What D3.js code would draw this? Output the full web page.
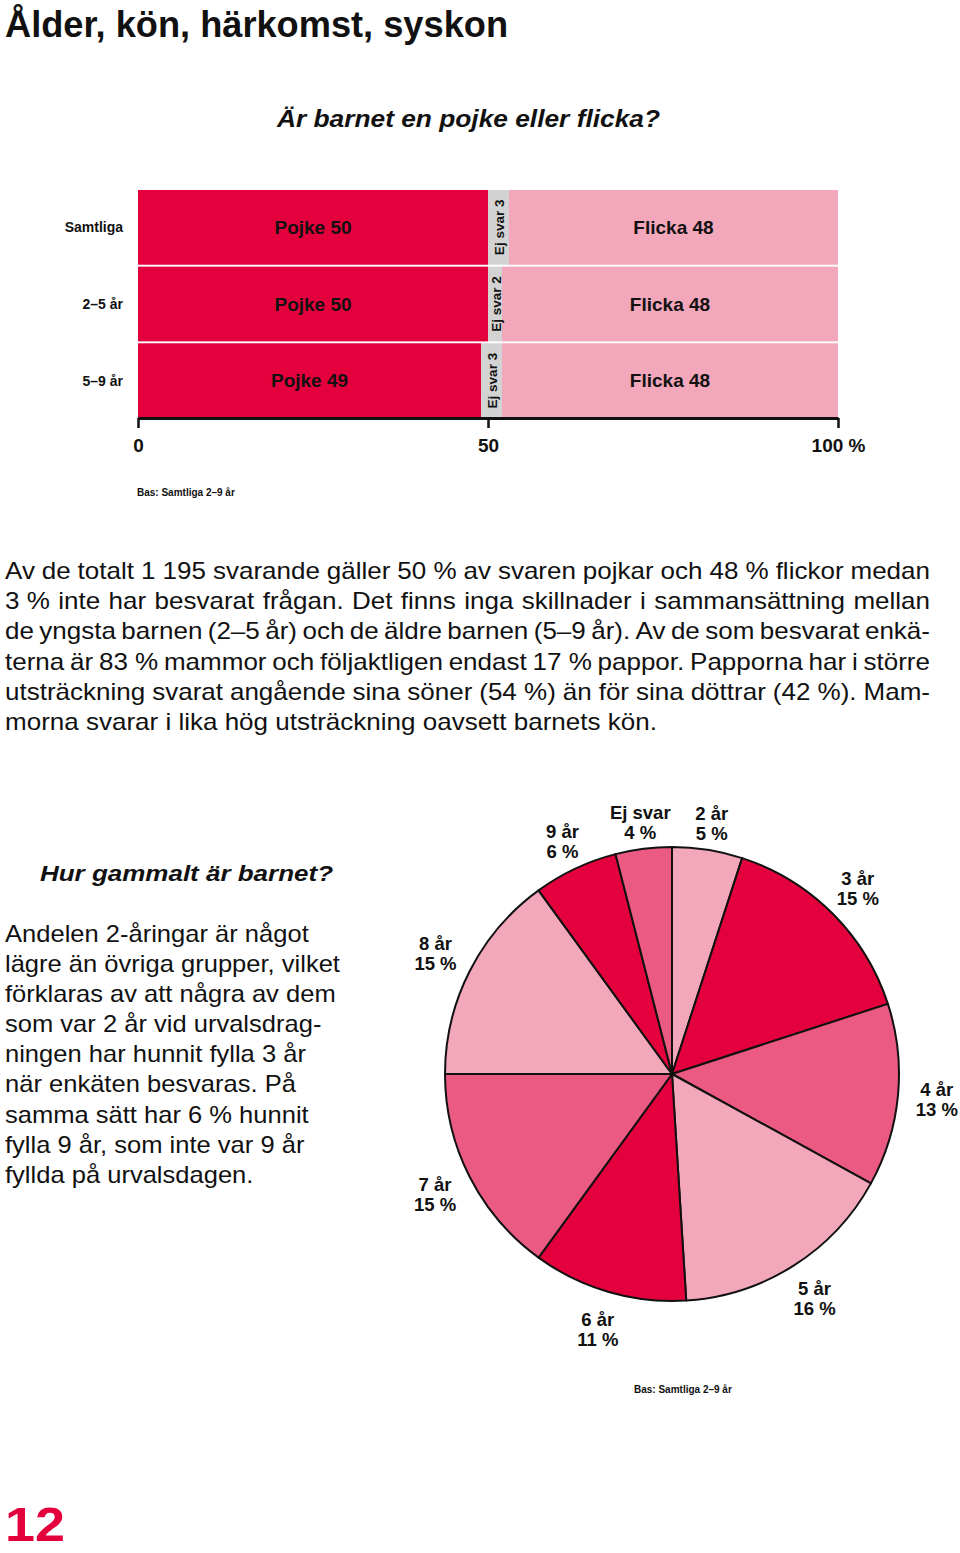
<!DOCTYPE html>
<html lang="sv">
<head>
<meta charset="utf-8">
<script src="https://cdn.jsdelivr.net/npm/d3@7"></script>
<style>
  html, body { margin: 0; padding: 0; background: #fff; }
  svg { display: block; }
  text { font-family: "Liberation Sans", Arial, sans-serif; fill: #111; }
</style>
</head>
<body>
<script>
// ---------- DATA ----------
const rowLabels = ["Samtliga", "2–5 år", "5–9 år"];
const pojke  = [50, 50, 49];
const ejSvar = [3, 2, 3];
const flicka = [48, 48, 48];
const barTicks = [0, 50, 100];

const ageLabels = ["2 år", "3 år", "4 år", "5 år", "6 år", "7 år", "8 år", "9 år", "Ej svar"];
const agePct    = [5, 15, 13, 16, 11, 15, 15, 6, 4];

const title = "Ålder, kön, härkomst, syskon";
const barTitle = "Är barnet en pojke eller flicka?";
const pieTitle = "Hur gammalt är barnet?";
const basText = "Bas: Samtliga 2–9 år";
const pageNumber = "12";

const mainPara = [
  "Av de totalt 1\u00a0195 svarande gäller 50\u00a0% av svaren pojkar och 48\u00a0% flickor medan",
  "3\u00a0% inte har besvarat frågan. Det finns inga skillnader i sammansättning mellan",
  "de yngsta barnen (2–5 år) och de äldre barnen (5–9 år). Av de som besvarat enkä-",
  "terna är 83\u00a0% mammor och följaktligen endast 17\u00a0% pappor. Papporna har i större",
  "utsträckning svarat angående sina söner (54\u00a0%) än för sina döttrar (42\u00a0%). Mam-",
  "morna svarar i lika hög utsträckning oavsett barnets kön."
];
const sidePara = [
  "Andelen 2-åringar är något",
  "lägre än övriga grupper, vilket",
  "förklaras av att några av dem",
  "som var 2 år vid urvalsdrag-",
  "ningen har hunnit fylla 3 år",
  "när enkäten besvaras. På",
  "samma sätt har 6 % hunnit",
  "fylla 9 år, som inte var 9 år",
  "fyllda på urvalsdagen."
];

// ---------- STYLE ----------
const RED = "#e3003c", MID = "#eb5a83", LIGHT = "#f3a7bb", GREY = "#d3d3d3";

const W = 960, H = 1553;
const svg = d3.select("body").append("svg").attr("width", W).attr("height", H);
svg.append("rect").attr("width", W).attr("height", H).attr("fill", "#fff");

// Title
svg.append("text").attr("x", 5).attr("y", 37)
  .attr("font-size", 36).attr("font-weight", 700)
  .attr("textLength", 503).attr("lengthAdjust", "spacingAndGlyphs")
  .text(title);

svg.append("text").attr("x", 277).attr("y", 127)
  .attr("font-size", 23).attr("font-weight", 700).attr("font-style", "italic")
  .attr("textLength", 383).attr("lengthAdjust", "spacingAndGlyphs")
  .text(barTitle);

// ---------- BAR CHART ----------
const x = d3.scaleLinear().domain([0, 100]).range([138, 838]).clamp(true);
const y = d3.scaleBand().domain(rowLabels).range([190, 418]).paddingInner(0.025).paddingOuter(0);

const stacked = rowLabels.map((r, i) => {
  const segs = [
    { key: "pojke", label: "Pojke " + pojke[i], v0: 0, v1: pojke[i], fill: RED },
    { key: "ej", label: "Ej svar " + ejSvar[i], v0: pojke[i], v1: pojke[i] + ejSvar[i], fill: GREY },
    { key: "flicka", label: "Flicka " + flicka[i], v0: pojke[i] + ejSvar[i], v1: pojke[i] + ejSvar[i] + flicka[i], fill: LIGHT }
  ];
  return { row: r, segs };
});

const rowsG = svg.append("g").selectAll("g").data(stacked).join("g");
rowsG.selectAll("rect").data(d => d.segs.map(s => ({ ...s, row: d.row }))).join("rect")
  .attr("x", d => x(d.v0)).attr("width", d => x(d.v1) - x(d.v0))
  .attr("y", d => y(d.row)).attr("height", y.bandwidth())
  .attr("fill", d => d.fill);

rowsG.selectAll("text.seg").data(d => d.segs.map(s => ({ ...s, row: d.row }))).join("text")
  .attr("class", "seg")
  .attr("transform", d => {
    const cx = (x(d.v0) + x(d.v1)) / 2, cy = y(d.row) + y.bandwidth() / 2;
    return d.key === "ej" ? `translate(${cx + 1},${cy}) rotate(-90)` : `translate(${cx},${cy + 6.5})`;
  })
  .attr("text-anchor", "middle")
  .attr("dominant-baseline", d => d.key === "ej" ? "central" : null)
  .attr("font-size", d => d.key === "ej" ? 13.5 : 19)
  .attr("font-weight", 700)
  .text(d => d.label);

svg.append("g").selectAll("text").data(rowLabels).join("text")
  .attr("x", 123).attr("y", d => y(d) + y.bandwidth() / 2 + 5)
  .attr("text-anchor", "end").attr("font-size", 14).attr("font-weight", 700)
  .text(d => d);

// Axis
const axisG = svg.append("g").attr("transform", "translate(0,418)")
  .call(d3.axisBottom(x).tickValues(barTicks).tickSize(10).tickSizeOuter(0).tickPadding(11)
    .tickFormat(d => d === barTicks[barTicks.length - 1] ? d + " %" : d));
axisG.select(".domain").attr("stroke", "#111").attr("stroke-width", 3);
axisG.selectAll(".tick line").attr("stroke", "#111").attr("stroke-width", 2.5);
axisG.selectAll(".tick text").attr("font-size", 19).attr("font-weight", 700)
  .attr("font-family", "Liberation Sans, Arial, sans-serif").attr("fill", "#111")
  .attr("dy", "0.71em");

svg.append("text").attr("x", 137).attr("y", 496).attr("font-size", 10).attr("font-weight", 700).text(basText);

// ---------- MAIN PARAGRAPH (justified, widened to match the original typeface) ----------
const pLeft = 5, pRight = 930;
const paraG = svg.append("g").attr("font-size", 23);
const probe = paraG.append("text").text(mainPara[mainPara.length - 1]);
const sxMain = 652 / probe.node().getComputedTextLength();
probe.remove();
paraG.attr("transform", `translate(${pLeft},0) scale(${sxMain},1)`);
const innerW = (pRight - pLeft) / sxMain;
mainPara.forEach((line, i) => {
  const by = 579 + i * 30.2;
  if (i === mainPara.length - 1) {
    paraG.append("text").attr("x", 0).attr("y", by).text(line);
    return;
  }
  const words = line.split(" ");
  const tmp = words.map(w => paraG.append("text").attr("y", by).text(w));
  const widths = tmp.map(t => t.node().getComputedTextLength());
  const gap = (innerW - d3.sum(widths)) / (words.length - 1);
  let px = 0;
  tmp.forEach((t, k) => { t.attr("x", px); px += widths[k] + gap; });
});

// ---------- PIE ----------
svg.append("text").attr("x", 40).attr("y", 881)
  .attr("font-size", 22).attr("font-weight", 700).attr("font-style", "italic")
  .attr("textLength", 293).attr("lengthAdjust", "spacingAndGlyphs")
  .text(pieTitle);

const sideG = svg.append("g").attr("font-size", 23);
const probe2 = sideG.append("text").text(sidePara[1]);
const sxSide = 335 / probe2.node().getComputedTextLength();
probe2.remove();
sideG.attr("transform", `translate(5,0) scale(${sxSide},1)`);
sidePara.forEach((line, i) => {
  sideG.append("text").attr("x", 0).attr("y", 942 + i * 30.1).text(line);
});

const pieColors = d3.scaleOrdinal().domain(ageLabels)
  .range([LIGHT, RED, MID, LIGHT, RED, MID, LIGHT, RED, MID]);
const cx = 672, cy = 1074, R = 227;
const pie = d3.pie().sort(null).value(d => d.v);
const arcs = pie(ageLabels.map((l, i) => ({ label: l, v: agePct[i] })));
const arc = d3.arc().innerRadius(0).outerRadius(R);

const pieG = svg.append("g").attr("transform", `translate(${cx},${cy})`);
pieG.selectAll("path").data(arcs).join("path")
  .attr("d", arc).attr("fill", d => pieColors(d.data.label))
  .attr("stroke", "#111").attr("stroke-width", 2).attr("stroke-linejoin", "round");

const lbl = pieG.selectAll("g.lbl").data(arcs).join("g").attr("class", "lbl")
  .attr("transform", d => {
    const a = (d.startAngle + d.endAngle) / 2;
    const c = Math.max(0, Math.cos(a));
    const r = 266 - 13 * Math.pow(c, 4);
    return `translate(${r * Math.sin(a)},${-r * Math.cos(a) - 3.5})`;
  });
lbl.append("text").attr("text-anchor", "middle").attr("font-size", 18.5).attr("font-weight", 700)
  .text(d => d.data.label);
lbl.append("text").attr("text-anchor", "middle").attr("y", 20).attr("font-size", 18.5).attr("font-weight", 700)
  .text(d => d.data.v + " %");

svg.append("text").attr("x", 634).attr("y", 1393).attr("font-size", 10).attr("font-weight", 700).text(basText);

// Page number
svg.append("text").attr("x", 5).attr("y", 1541).attr("font-size", 49).attr("font-weight", 700)
  .attr("textLength", 60).attr("lengthAdjust", "spacingAndGlyphs")
  .style("fill", RED).text(pageNumber);
</script>
</body>
</html>
